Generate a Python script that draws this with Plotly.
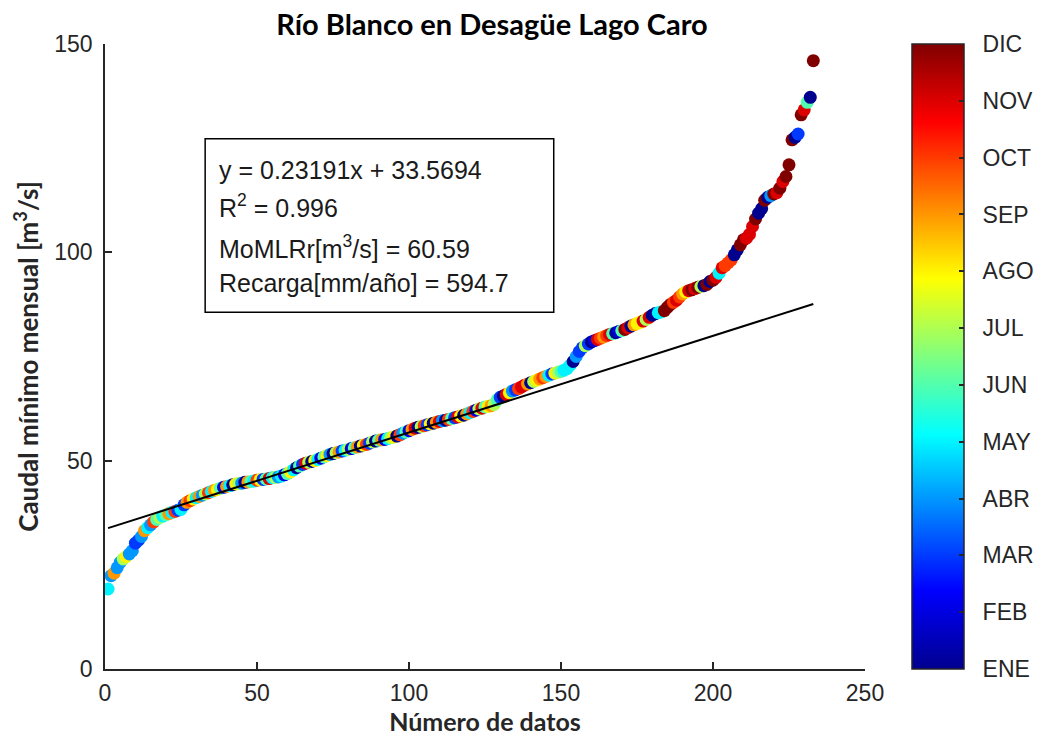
import plotly.graph_objects as go

# ---------------- data ----------------
caudal = [
    19.2, 22.4, 23.0, 24.3, 25.6, 26.4, 27.0, 27.6, 28.4, 30.2,
    30.9, 31.8, 33.2, 33.9, 34.6, 35.3, 35.9, 36.4, 36.7, 37.0,
    37.3, 37.6, 37.8, 38.1, 38.3, 39.4, 40.0, 40.4, 40.8, 41.1,
    41.4, 41.7, 42.0, 42.3, 42.6, 42.9, 43.1, 43.4, 43.6, 43.8,
    44.0, 44.2, 44.4, 44.5, 44.6, 44.8, 44.9, 45.0, 45.1, 45.3,
    45.4, 45.5, 45.6, 45.7, 45.9, 46.0, 46.1, 46.3, 46.6, 46.9,
    47.3, 47.8, 48.3, 48.7, 49.1, 49.4, 49.6, 49.8, 50.0, 50.3,
    50.6, 50.9, 51.2, 51.5, 51.7, 51.9, 52.1, 52.3, 52.5, 52.7,
    52.9, 53.1, 53.3, 53.5, 53.7, 53.9, 54.2, 54.5, 54.7, 54.9,
    55.0, 55.1, 55.3, 55.5, 55.7, 55.9, 56.2, 56.6, 56.9, 57.2,
    57.5, 57.8, 58.0, 58.2, 58.4, 58.6, 58.8, 59.0, 59.2, 59.4,
    59.6, 59.7, 59.9, 60.1, 60.3, 60.5, 60.7, 60.9, 61.2, 61.5,
    61.8, 62.1, 62.4, 62.6, 62.9, 63.0, 63.2, 63.5, 64.6, 65.2,
    65.5, 65.9, 66.3, 66.7, 67.0, 67.3, 67.7, 68.1, 68.4, 68.7,
    69.0, 69.3, 69.6, 69.9, 70.2, 70.5, 70.8, 71.0, 71.2, 71.4,
    71.7, 72.1, 72.9, 73.8, 75.0, 76.2, 77.1, 77.6, 78.0, 78.5,
    78.8, 79.1, 79.4, 79.7, 80.0, 80.3, 80.5, 80.7, 81.0, 81.2,
    81.5, 81.9, 82.3, 82.6, 82.9, 83.2, 83.5, 83.9, 84.4, 84.9,
    85.3, 85.5, 85.7, 86.0, 86.8, 87.5, 88.0, 88.5, 89.3, 90.0,
    90.5, 90.8, 91.0, 91.3, 91.6, 91.8, 92.0, 92.3, 93.0, 93.3,
    94.0, 95.0, 96.3, 96.8, 97.5, 98.2, 99.4, 100.6, 101.8, 103.0,
    103.4, 104.3, 106.2, 108.0, 109.4, 110.5, 112.5, 113.2, 113.6, 114.0,
    114.3, 115.4, 117.0, 118.2, 121.0, 127.0, 127.6, 128.4, 133.0, 134.2,
    136.0, 137.2, 146.0,
]

mes = [
    5, 4, 9, 4, 4, 7, 8, 4, 4, 3,
    3, 4, 9, 5, 4, 10, 6, 7, 5, 6,
    9, 5, 10, 3, 5, 3, 9, 10, 8, 5,
    9, 4, 7, 10, 5, 9, 8, 6, 2, 9,
    5, 1, 8, 7, 4, 1, 9, 6, 5, 10,
    8, 3, 6, 11, 5, 7, 4, 5, 2, 6,
    8, 5, 1, 6, 3, 11, 7, 1, 8, 5,
    2, 6, 8, 4, 1, 7, 9, 3, 5, 7,
    2, 6, 9, 1, 8, 10, 3, 7, 1, 6,
    9, 2, 5, 7, 8, 1, 10, 4, 6, 2,
    9, 11, 1, 7, 10, 3, 8, 1, 9, 11,
    4, 1, 10, 6, 3, 11, 8, 1, 9, 5,
    10, 2, 7, 11, 6, 8, 9, 7, 6, 3,
    1, 11, 8, 4, 3, 10, 11, 11, 9, 1,
    7, 8, 9, 10, 9, 5, 3, 8, 7, 6,
    5, 5, 5, 1, 4, 3, 3, 7, 3, 1,
    2, 11, 10, 9, 10, 11, 6, 1, 2, 6,
    12, 11, 1, 9, 8, 8, 11, 7, 11, 1,
    1, 5, 5, 12, 12, 12, 10, 11, 10, 9,
    8, 11, 12, 11, 12, 7, 1, 12, 1, 12,
    11, 5, 11, 10, 10, 10, 1, 1, 12, 12,
    11, 11, 11, 12, 1, 1, 12, 1, 4, 12,
    11, 12, 11, 12, 12, 12, 1, 3, 12, 11,
    6, 1, 12,
]

meses = ["ENE", "FEB", "MAR", "ABR", "MAY", "JUN",
         "JUL", "AGO", "SEP", "OCT", "NOV", "DIC"]

pendiente = 0.23191
intercepto = 33.5694
r2 = 0.996
momlrr = 60.59
recarga = 594.7

n = list(range(1, len(caudal) + 1))

# ---------------- styling ----------------
jet = [
    [0.0, "rgb(0,0,143)"],
    [0.125, "rgb(0,0,255)"],
    [0.375, "rgb(0,255,255)"],
    [0.625, "rgb(255,255,0)"],
    [0.875, "rgb(255,0,0)"],
    [1.0, "rgb(128,0,0)"],
]

W, H = 1052, 742
L, R, T, B = 105, 879, 44, 671
axc = "#262626"
tickfont = dict(family="Liberation Sans, Arial", size=23, color=axc)


def px(xp):
    return (xp - L) / (R - L)


def py(yp):
    return (B - yp) / (B - T)


fig = go.Figure()

fig.add_trace(go.Scatter(
    x=n, y=caudal, mode="markers",
    marker=dict(
        size=13, color=mes, colorscale=jet, cmin=1, cmax=12,
        line=dict(width=0),
        colorbar=dict(
            tickvals=list(range(1, 13)),
            ticktext=["\u00a0\u00a0" + m for m in meses],
            thickness=52, thicknessmode="pixels",
            len=1, lenmode="fraction", y=0.5, yanchor="middle",
            x=px(927), xanchor="left", xpad=0, ypad=0,
            outlinecolor=axc, outlinewidth=1.5,
            ticks="inside", ticklen=5, tickwidth=1.5, tickcolor=axc,
            tickfont=tickfont,
        ),
    ),
    showlegend=False, hoverinfo="x+y",
))

xf = [n[0], n[-1]]
fig.add_trace(go.Scatter(
    x=xf, y=[pendiente * v + intercepto for v in xf], mode="lines",
    line=dict(color="black", width=2), showlegend=False,
))

# text box
fig.add_shape(type="rect", xref="paper", yref="paper",
              x0=px(207), x1=px(562), y0=py(313), y1=py(139),
              line=dict(color="black", width=1.5), fillcolor="white", layer="above")

lines = [
    (f"y = {pendiente}x + {intercepto}", 170),
    (f"R<sup>2</sup> = {r2}", 207),
    (f"MoMLRr[m<sup>3</sup>/s] = {momlrr}", 248),
    (f"Recarga[mm/año] = {recarga}", 284),
]
for txt, yy in lines:
    fig.add_annotation(
        text=txt, xref="paper", yref="paper", x=px(219), y=py(yy),
        xanchor="left", yanchor="middle", showarrow=False,
        font=dict(family="Liberation Sans, Arial", size=25, color="#1a1a1a"),
    )

fig.update_layout(
    width=W, height=H,
    margin=dict(l=L, r=W - R, t=T, b=H - B, pad=0),
    paper_bgcolor="white", plot_bgcolor="white",
    title=dict(text="<b>Río Blanco en Desagüe Lago Caro</b>",
               x=(L + R) / 2 / W, xanchor="center", y=1 - 25 / H, yanchor="middle",
               font=dict(family="Lato, Open Sans", size=29, color="black")),
    xaxis=dict(range=[0, 250], dtick=50, showgrid=False, zeroline=False,
               showline=True, linecolor=axc, linewidth=1.5, mirror=False,
               ticks="inside", ticklen=7, tickwidth=1.5, tickcolor=axc,
               tickfont=tickfont, ticklabelstandoff=3,
               title=dict(text="<b>Número de datos</b>",
                          font=dict(family="Lato, Open Sans", size=25, color=axc),
                          standoff=6)),
    yaxis=dict(range=[0, 150], dtick=50, showgrid=False, zeroline=False,
               showline=True, linecolor=axc, linewidth=1.5, mirror=False,
               ticks="inside", ticklen=7, tickwidth=1.5, tickcolor=axc,
               tickfont=tickfont, ticklabelstandoff=6,
               title=dict(text="<b>Caudal mínimo mensual [m<sup>3</sup>/s]</b>",
                          font=dict(family="Lato, Open Sans", size=26, color=axc),
                          standoff=8)),
)

fig.write_html(
    "out.html",
    config={"displayModeBar": False},
    post_script="document.body.style.margin='0px';document.body.style.overflow='hidden';",
)
